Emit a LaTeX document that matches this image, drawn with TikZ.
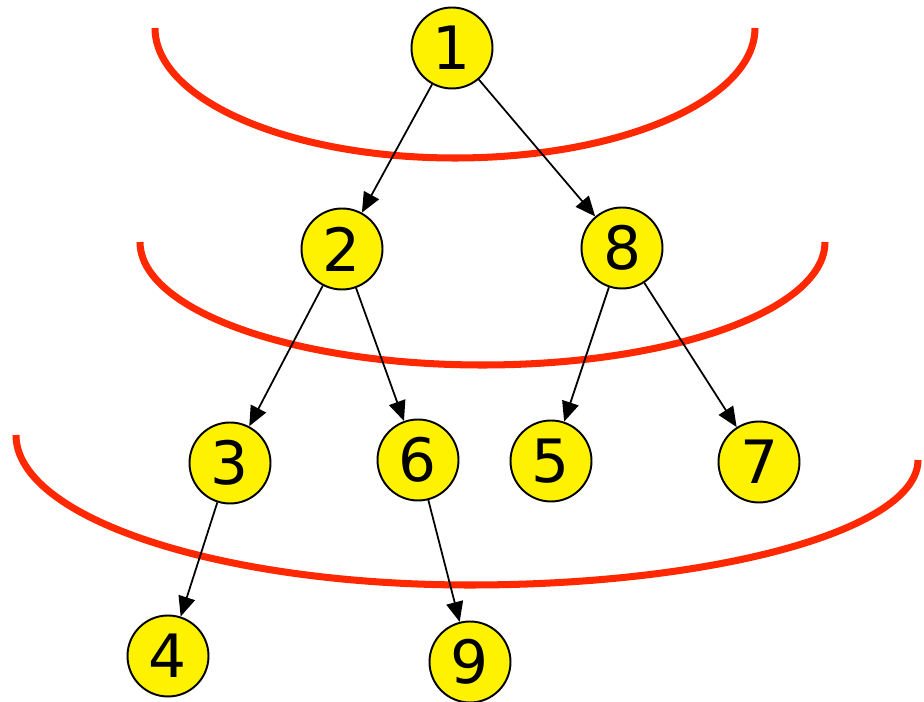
\documentclass[tikz,border=0pt]{standalone}
\usepackage{fontspec}
\setmainfont{DejaVu Sans}
\usepackage{xcolor}
\usepackage{tikz}
\usetikzlibrary{arrows.meta}

\definecolor{levelred}{RGB}{255,40,0}

\begin{document}
\begin{tikzpicture}[x=0.02cm,y=0.02cm,>={Triangle[length=4mm,width=3.4mm]},
  vert/.style={circle,draw,fill=yellow,line width=1.1pt,minimum size=1.62cm,inner sep=0pt,font=\fontsize{34}{34}\selectfont},
  level/.style={levelred,line width=4pt},
  edge/.style={->,line width=1pt}]
  \useasboundingbox (0,-702) rectangle (924,0);
  \draw[level] (155,-28) arc[start angle=180,end angle=360,x radius=300,y radius=130];
  \draw[level] (140,-242) arc[start angle=180,end angle=360,x radius=342.5,y radius=123];
  \draw[level] (16,-435) arc[start angle=180,end angle=270,x radius=454,y radius=150]
    arc[start angle=270,end angle=360,x radius=448,y radius=125];
  \node[vert] (v1) at (452,-48) {1};
  \node[vert] (v2) at (342,-249) {2};
  \node[vert] (v8) at (622,-248) {8};
  \node[vert] (v3) at (230,-463) {3};
  \node[vert] (v6) at (418,-460) {6};
  \node[vert] (v5) at (551,-461) {5};
  \node[vert] (v7) at (759,-462) {7};
  \node[vert] (v4) at (168,-656) {4};
  \node[vert] (v9) at (470,-662) {9};
  \draw[edge] (v1) -- (v2);
  \draw[edge] (v1) -- (v8);
  \draw[edge] (v2) -- (v3);
  \draw[edge] (v2) -- (v6);
  \draw[edge] (v8) -- (v5);
  \draw[edge] (v8) -- (v7);
  \draw[edge] (v3) -- (v4);
  \draw[edge] (v6) -- (v9);
\end{tikzpicture}
\end{document}
